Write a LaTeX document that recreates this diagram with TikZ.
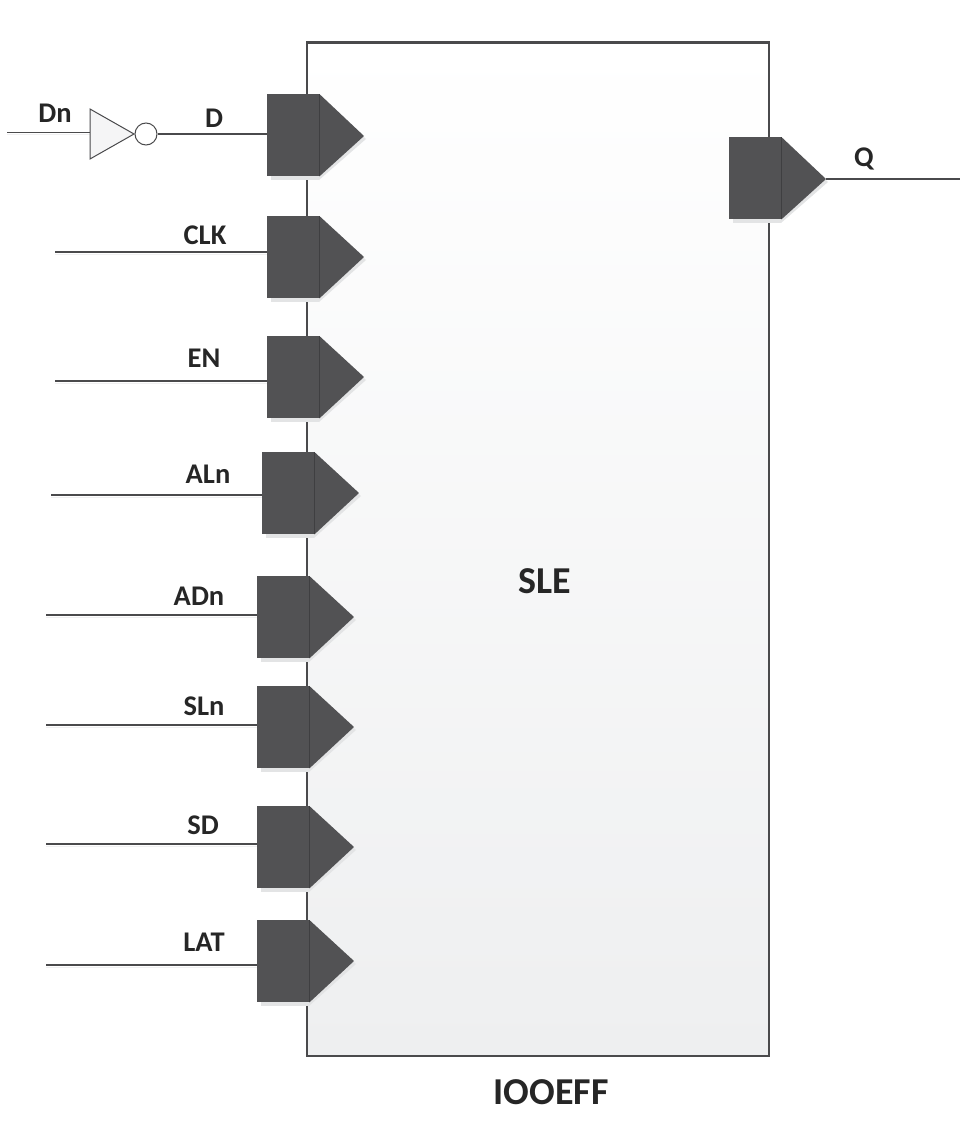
\documentclass[tikz,border=0pt]{standalone}
\usepackage{fontspec}
\setmainfont{Carlito}
\definecolor{portdark}{HTML}{525254}
\definecolor{portedge}{HTML}{3F3F41}
\definecolor{linecol}{HTML}{4A4A4C}
\definecolor{boxend}{HTML}{EEEFF0}
\definecolor{shadowcol}{HTML}{E3E4E5}
\definecolor{wireshadecol}{HTML}{F0F0F1}
\tikzset{
  mainbox/.style={draw=linecol,line width=2.2pt,top color=white,bottom color=boxend,rectangle,inner sep=0pt,anchor=north west,minimum width=462pt,minimum height=1013pt},
  portbox/.style={fill=portdark,rectangle,inner sep=0pt,anchor=north west,minimum width=52pt,minimum height=82pt},
  porttip/.style={fill=portdark},
  portline/.style={draw=portedge,line width=0.8pt},
  pinwire/.style={draw=linecol,line width=1.6pt},
  wireshade/.style={draw=wireshadecol,line width=1.6pt},
  pinlabel/.style={font=\bfseries\fontsize{28.5}{31}\selectfont,text=black!85,inner sep=0pt},
  biglabel/.style={font=\bfseries\fontsize{38}{42}\selectfont,text=black!85,inner sep=0pt},
  invbody/.style={draw=linecol,line width=1pt,fill=boxend!60},
  invbubble/.style={draw=linecol,line width=1pt,fill=white,circle,inner sep=0pt,minimum size=22pt}
}
% name, left x, top y, tip y
\newcommand{\pinport}[4]{%
  \fill[shadowcol] (#2+4,#3+4) rectangle (#2+52,#3+86);
  \fill[shadowcol] (#2+52,#3) -- (#2+99,#4+3) -- (#2+52,#3+86) -- cycle;
  \node[portbox] (#1) at (#2,#3) {};
  \fill[porttip] (#1.north east) -- (#2+97,#4) -- (#1.south east) -- cycle;
  \draw[portline] (#1.north east) -- (#1.south east);
}
% port name, free-end x, y
\newcommand{\pinwireto}[3]{%
  \coordinate (#1free) at (#2,#3);
  \draw[wireshade] ([yshift=-2.5pt]#1free) -- ([yshift=-2.5pt]#1free -| #1.west);
  \draw[pinwire] (#1free) -- (#1free -| #1.west);
}
\begin{document}
\begin{tikzpicture}[x=1pt,y=-1pt]
\useasboundingbox (0,0) rectangle (973,1132);
\node[mainbox] (sle) at (305.5,41.5) {};
\pinport{pd}{267}{94}{136}
\pinport{pclk}{267}{216}{257}
\pinport{pen}{267}{336}{377}
\pinport{paln}{262}{452}{493}
\pinport{padn}{257}{576}{617}
\pinport{psln}{257}{686}{727}
\pinport{psd}{257}{806}{847}
\pinport{plat}{257}{920}{961}
\pinport{pq}{729}{137}{179}
% inverter
\coordinate (dnfree) at (7,132);
\coordinate (invA) at (90,109);
\coordinate (invB) at (90,159);
\coordinate (invC) at (134,134);
\draw[wireshade] ([yshift=-2.5pt]dnfree) -- ([yshift=-2.5pt]dnfree -| invA);
\draw[pinwire,line width=1pt] (dnfree) -- (dnfree -| invA);
\draw[invbody] (invA) -- (invC) -- (invB) -- cycle;
\node[invbubble] (bub) at (146,134) {};
\draw[pinwire] (bub.east) -- (bub.east -| pd.west);
% wires
\pinwireto{pclk}{55}{252}
\pinwireto{pen}{55}{381}
\pinwireto{paln}{51}{495}
\pinwireto{padn}{46}{615}
\pinwireto{psln}{46}{725}
\pinwireto{psd}{46}{844}
\pinwireto{plat}{46}{965}
\coordinate (qfree) at (960,179);
\coordinate (qtip) at (826,179);
\draw[pinwire] (qtip) -- (qfree);
% labels
\node[pinlabel] (lDn) at (55,113) {Dn};
\node[pinlabel] (lD) at (214,118) {D};
\node[pinlabel] (lCLK) at (205,235) {CLK};
\node[pinlabel] (lEN) at (204,358) {EN};
\node[pinlabel] (lALn) at (208,474) {ALn};
\node[pinlabel] (lADn) at (199,596) {ADn};
\node[pinlabel] (lSLn) at (204,706) {SLn};
\node[pinlabel] (lSD) at (203,825) {SD};
\node[pinlabel] (lLAT) at (204,942) {LAT};
\node[pinlabel] (lQ) at (864,159) {Q};
\node[biglabel] (lSLE) at (545,581) {SLE};
\node[biglabel] (lIOOEFF) at (551,1092) {IOOEFF};
\end{tikzpicture}
\end{document}
